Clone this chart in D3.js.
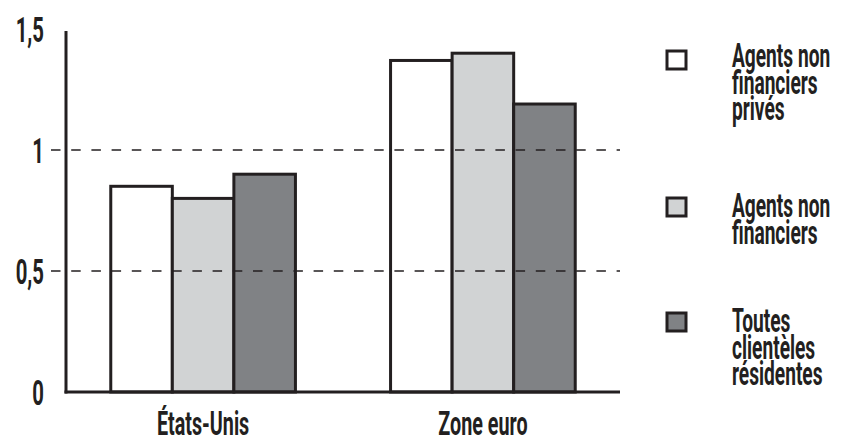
<!DOCTYPE html>
<html lang="fr">
<head>
<meta charset="utf-8">
<script src="https://cdn.jsdelivr.net/npm/d3@7/dist/d3.min.js"></script>
<style>
  html, body { margin: 0; padding: 0; background: #fff; }
  svg { display: block; }
  text { font-family: Roboto, "Noto Sans", sans-serif; font-weight: 700; fill: #231f20; }
</style>
</head>
<body>
<svg id="chart" width="841" height="438"></svg>
<script>
// Categories and series
const categories = ["États-Unis", "Zone euro"];
const seriesNames = ["Agents non financiers privés", "Agents non financiers", "Toutes clientèles résidentes"];
const legendLines = [
  ["Agents non", "financiers", "privés"],
  ["Agents non", "financiers"],
  ["Toutes", "clientèles", "résidentes"]
];
const valuesPrives   = [0.85, 1.37];
const valuesAgents   = [0.80, 1.40];
const valuesToutes   = [0.90, 1.19];
const seriesValues = [valuesPrives, valuesAgents, valuesToutes];
const seriesColors = ["#ffffff", "#d1d3d4", "#808285"];

const yTicks = [0, 0.5, 1, 1.5];
const yTickLabels = ["0", "0,5", "1", "1,5"];
const gridValues = [0.5, 1];

const ink = "#231f20";
const squeeze = 0.58;   // horizontal compression to get a condensed face

const svg = d3.select("#chart");

const x0 = d3.scaleBand().domain(categories).range([66, 620]).paddingInner(0.34).paddingOuter(0.16);
const x1 = d3.scaleBand().domain(d3.range(seriesNames.length)).range([0, x0.bandwidth()]).padding(0);
const y = d3.scaleLinear().domain([0, 1.5]).range([392, 29]);

// condensed text helper
function label(parent, txt, x, yPos, anchor, size) {
  return parent.append("text")
    .attr("transform", `translate(${x},${yPos}) scale(${squeeze},1)`)
    .attr("text-anchor", anchor)
    .attr("font-size", size)
    .text(txt);
}

// Bars
const rows = [];
categories.forEach((c, ci) => {
  seriesValues.forEach((vals, si) => rows.push({ c, si, v: vals[ci] }));
});
svg.append("g").selectAll("rect").data(rows).join("rect")
  .attr("x", d => x0(d.c) + x1(d.si))
  .attr("y", d => y(d.v))
  .attr("width", x1.bandwidth())
  .attr("height", d => y(0) - y(d.v))
  .attr("fill", d => seriesColors[d.si])
  .attr("stroke", ink)
  .attr("stroke-width", 3);

// Dashed gridlines drawn over the bars
svg.append("g").selectAll("line").data(gridValues).join("line")
  .attr("x1", 51).attr("x2", 620)
  .attr("y1", d => y(d)).attr("y2", d => y(d))
  .attr("stroke", ink)
  .attr("stroke-width", 1.6)
  .attr("stroke-dasharray", "9.5,10.7");

// Axis lines
svg.append("line")
  .attr("x1", 66).attr("x2", 66)
  .attr("y1", y(1.5) + 2).attr("y2", y(0) + 1.5)
  .attr("stroke", ink).attr("stroke-width", 3);
svg.append("line")
  .attr("x1", 64.5).attr("x2", 620)
  .attr("y1", y(0)).attr("y2", y(0))
  .attr("stroke", ink).attr("stroke-width", 3);

// Y tick labels
const yLab = svg.append("g");
yTicks.forEach((t, i) => {
  label(yLab, yTickLabels[i], 44, y(t) + 12.5, "end", 35);
});

// Category labels
const xLab = svg.append("g");
categories.forEach(c => {
  label(xLab, c, x0(c) + x0.bandwidth() / 2, 435, "middle", 34);
});

// Legend
const legendSquareY = [60, 207, 322];
const legendFirstBaseline = [67, 217, 332];
const lineH = 26.5;
const leg = svg.append("g");
seriesNames.forEach((name, i) => {
  leg.append("rect")
    .attr("x", 667).attr("y", legendSquareY[i] - 9)
    .attr("width", 19).attr("height", 18)
    .attr("fill", seriesColors[i])
    .attr("stroke", ink).attr("stroke-width", 3);
  legendLines[i].forEach((ln, j) => {
    label(leg, ln, 732, legendFirstBaseline[i] + j * lineH, "start", 33);
  });
});
</script>
</body>
</html>
